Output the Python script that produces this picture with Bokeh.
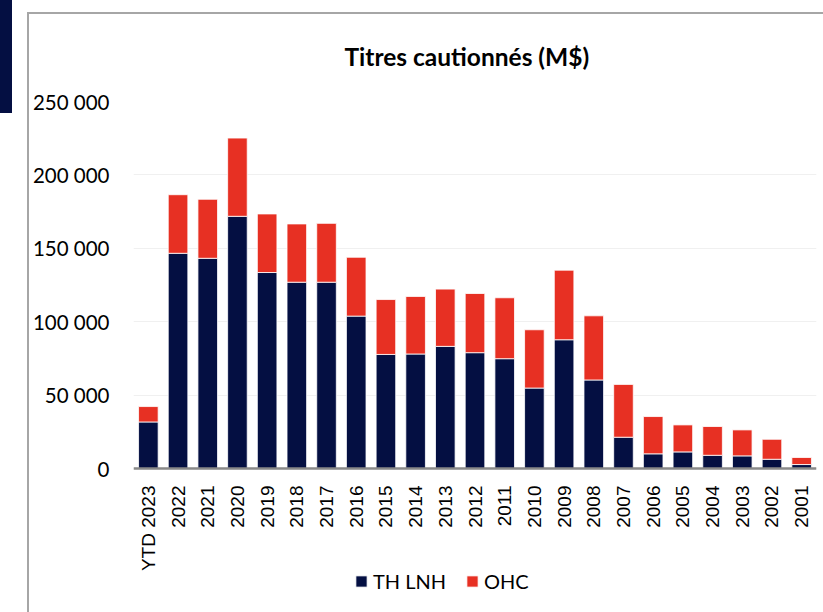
from bokeh.plotting import figure
from bokeh.models import (ColumnDataSource, FactorRange, Range1d, FixedTicker,
                          Legend, LegendItem, InlineStyleSheet)
from bokeh.embed import file_html
from bokeh.resources import INLINE
import math

categories = ["YTD 2023", "2022", "2021", "2020", "2019", "2018", "2017", "2016",
              "2015", "2014", "2013", "2012", "2011", "2010", "2009", "2008",
              "2007", "2006", "2005", "2004", "2003", "2002", "2001"]
th_lnh = [31700, 146600, 143200, 171800, 133500, 126900, 126900, 103800,
          77700, 78000, 83200, 78900, 74800, 54800, 87700, 60300,
          21300, 10000, 11300, 9000, 8600, 6300, 2700]
ohc = [10500, 39900, 40200, 53300, 39900, 39700, 40100, 40100,
       37400, 39200, 39000, 40300, 41500, 39700, 47400, 43700,
       36000, 25400, 18400, 19600, 17700, 13600, 4800]
series_names = ["TH LNH", "OHC"]
y_ticks = [0, 50000, 100000, 150000, 200000, 250000]
y_tick_labels = ["0", "50 000", "100 000", "150 000", "200 000", "250 000"]
title_text = "Titres cautionnés (M$)"

NAVY = "#040f42"
RED = "#e73023"

# layout (pixels)
W, H = 823, 612
TOP, LEFT, RIGHT = 101, 133, 7
AXIS_PX = 367                      # pixels from 0 to 250 000
frame_h = H - TOP
y_max = 250000
y_min = y_max - frame_h * y_max / AXIS_PX   # room below zero for labels + legend

src = ColumnDataSource(data=dict(cat=categories, th=th_lnh, ohc=ohc))

p = figure(width=W, height=H, x_range=FactorRange(*categories),
           y_range=Range1d(y_min, y_max), output_backend="svg",
           toolbar_location=None, min_border_left=LEFT, min_border_right=RIGHT,
           min_border_top=TOP, min_border_bottom=0)
p.stylesheets = [InlineStyleSheet(css=(
    ":host::before { content: ''; position: absolute; left: 0px; top: 0px;"
    " width: 12px; height: 113px; background: #040f42; z-index: 100;"
    " pointer-events: none; }"
    ":host::after { content: ''; position: absolute; left: 27px; top: 12px;"
    " right: -10px; bottom: -10px; border-left: 2px solid #a6a6a6;"
    " border-top: 2px solid #a6a6a6; z-index: 100; pointer-events: none; }"))]

r = p.vbar_stack(["th", "ohc"], x="cat", width=0.66, source=src,
                 color=[NAVY, RED], line_color="white", line_width=0.8)

p.x_range.range_padding = 0
p.x_range.factor_padding = 0

p.title.text = title_text
p.title.text_font = "Lato"
p.title.text_font_style = "bold"
p.title.text_font_size = "24.5px"
p.title.text_color = "#000000"
p.title.align = "left"
p.title.offset = 211
p.title.standoff = 61

p.outline_line_color = None
p.background_fill_color = "white"
p.border_fill_color = "white"

p.xgrid.grid_line_color = None
p.ygrid.grid_line_color = "#f0f0f0"
p.ygrid.ticker = FixedTicker(ticks=y_ticks)

ya = p.yaxis[0]
ya.ticker = FixedTicker(ticks=y_ticks)
ya.major_label_overrides = {t: l for t, l in zip(y_ticks, y_tick_labels)}
ya.axis_line_color = None
ya.major_tick_line_color = None
ya.minor_tick_line_color = None
ya.major_tick_out = 0
ya.major_label_standoff = 24
ya.major_label_text_font = "Lato"
ya.major_label_text_font_size = "20.5px"
ya.major_label_text_color = "#000000"

xa = p.xaxis[0]
xa.fixed_location = 0
xa.axis_line_color = "#898989"
xa.axis_line_width = 2.5
xa.major_tick_line_color = None
xa.minor_tick_line_color = None
xa.major_tick_out = 0
xa.major_label_standoff = 17
xa.major_label_orientation = math.pi / 2
xa.major_label_text_font = "Liberation Sans"
xa.major_label_text_font_size = "19px"
xa.major_label_text_color = "#000000"

legend = Legend(items=[LegendItem(label=series_names[0], renderers=[r[0]]),
                       LegendItem(label=series_names[1], renderers=[r[1]])],
                orientation="horizontal", location=(221, 19),
                padding=0, margin=0, border_line_color=None,
                background_fill_alpha=0, glyph_width=14, glyph_height=14,
                label_standoff=5, spacing=19, label_text_font="Lato",
                label_text_font_size="20px", label_text_color="#000000")
p.add_layout(legend, "center")

open("out.html", "w").write(file_html(p, INLINE))
